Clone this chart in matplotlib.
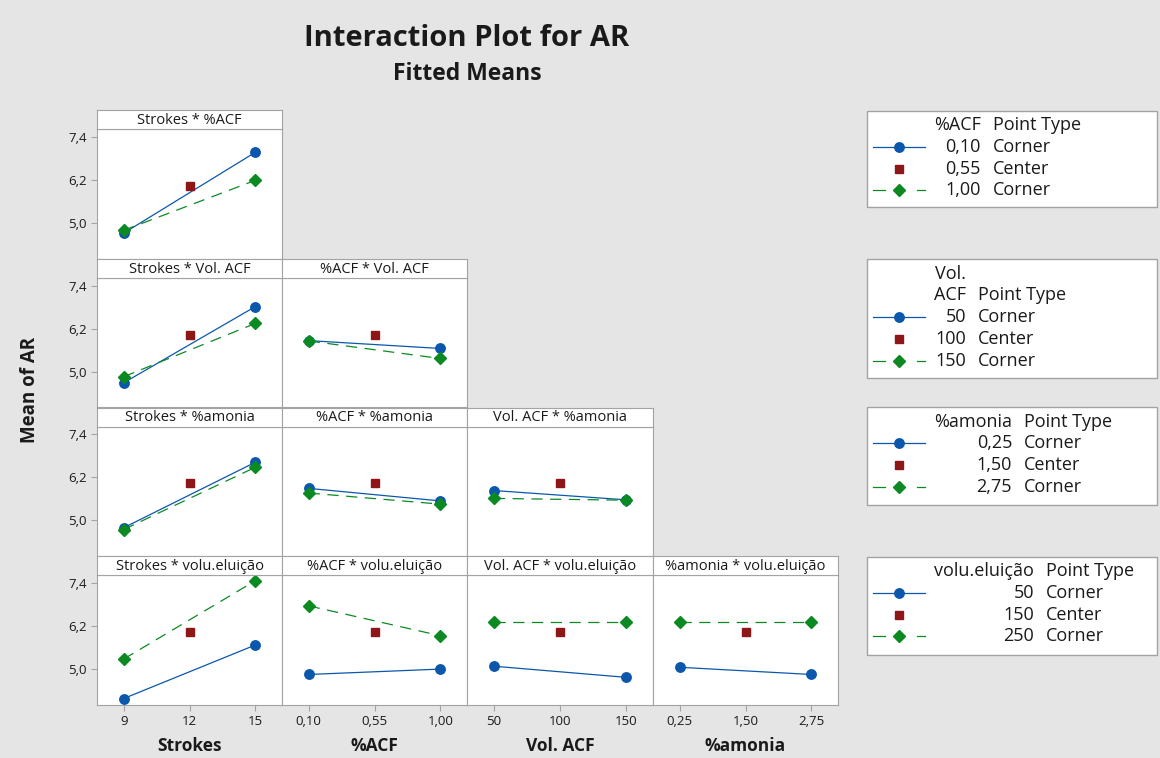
import numpy as np
import matplotlib.pyplot as plt
from matplotlib.lines import Line2D
from matplotlib.patches import Rectangle

plt.rcParams['font.family'] = ['Open Sans', 'DejaVu Sans']

# factors and their levels (low, center, high)
factors = ['Strokes', '%ACF', 'Vol. ACF', '%amonia', 'volu.eluição']
levels = [[9, 12, 15], [0.10, 0.55, 1.00], [50, 100, 150], [0.25, 1.50, 2.75], [50, 150, 250]]
level_labels = [['9', '12', '15'], ['0,10', '0,55', '1,00'], ['50', '100', '150'],
                ['0,25', '1,50', '2,75'], ['50', '150', '250']]

# panels: (trace factor index, x factor index)
panels = [(1, 0),
          (2, 0), (2, 1),
          (3, 0), (3, 1), (3, 2),
          (4, 0), (4, 1), (4, 2), (4, 3)]
# fitted means at x low / x high, for the low and high level of the trace factor
low_means = [[4.72, 6.97],
             [4.69, 6.82], [5.87, 5.65],
             [4.79, 6.62], [5.89, 5.54], [5.83, 5.57],
             [4.18, 5.67], [4.85, 5.00], [5.08, 4.77], [5.05, 4.85]]
high_means = [[4.80, 6.19],
              [4.86, 6.35], [5.86, 5.37],
              [4.74, 6.48], [5.76, 5.45], [5.61, 5.56],
              [5.28, 7.46], [6.76, 5.93], [6.31, 6.31], [6.31, 6.31]]
center_mean = 6.03

y_ticks = [5.0, 6.2, 7.4]
y_tick_labels = ['5,0', '6,2', '7,4']

BLUE = '#0b57ab'
RED = '#8e1518'
GREEN = '#0b8a22'
EDGE = '#a3a3a3'
BG = '#e5e5e5'
TXT = '#1a1a1a'

W, H = 1160, 758
fig = plt.figure(figsize=(W / 100, H / 100), dpi=100, facecolor=BG)


def fx(x):
    return x / W


def fy(y):
    return 1 - y / H


col_x = [97, 282, 467, 653, 838]
strip_top = [110, 259, 407.5, 556]
plot_bottom = [259, 407.5, 556, 705]
strip_h = 19

for k, (t, f) in enumerate(panels):
    r, c = t - 1, f
    x0, x1 = col_x[c], col_x[c + 1]
    top = strip_top[r] + strip_h
    bot = plot_bottom[r]
    ax = fig.add_axes([fx(x0), fy(bot), (x1 - x0) / W, (bot - top) / H])
    ax.set_facecolor('white')
    xs = [levels[f][0], levels[f][2]]
    ax.plot(xs, low_means[k], color=BLUE, lw=0.9, marker='o', ms=6.8, zorder=3)
    ax.plot(xs, high_means[k], color=GREEN, lw=0.9, ls=(0, (9, 6)), marker='D', ms=5.8, zorder=3)
    ax.plot([levels[f][1]], [center_mean], color=RED, marker='s', ms=6, ls='none', zorder=4)
    span = levels[f][2] - levels[f][0]
    ax.set_xlim(levels[f][0] - 0.203 * span, levels[f][2] + 0.203 * span)
    ax.set_ylim(4.0, 7.62)
    for s in ax.spines.values():
        s.set_color(EDGE)
    ax.tick_params(direction='out', length=4, color=EDGE, labelsize=9.5, labelcolor=TXT)
    if c == 0:
        ax.set_yticks(y_ticks)
        ax.set_yticklabels(y_tick_labels)
    else:
        ax.set_yticks([])
    if r == 3:
        ax.set_xticks(levels[f])
        ax.set_xticklabels(level_labels[f])
        ax.set_xlabel(factors[f], fontsize=12.5, fontweight='bold', color=TXT, labelpad=6)
    else:
        ax.set_xticks([])

    sax = fig.add_axes([fx(x0), fy(top), (x1 - x0) / W, strip_h / H])
    sax.set_facecolor('white')
    sax.set_xticks([])
    sax.set_yticks([])
    for s in sax.spines.values():
        s.set_color(EDGE)
    sax.text(0.5, 0.45, factors[f] + ' * ' + factors[t], ha='center', va='center',
             fontsize=10.5, color=TXT, transform=sax.transAxes)

fig.text(fx(467), fy(39), 'Interaction Plot for AR', ha='center', va='center',
         fontsize=21, fontweight='bold', color=TXT)
fig.text(fx(467), fy(74), 'Fitted Means', ha='center', va='center',
         fontsize=16.5, fontweight='bold', color=TXT)
fig.text(fx(30), fy(390), 'Mean of AR', ha='center', va='center', rotation=90,
         fontsize=13.5, fontweight='bold', color=TXT)

# legends
legend_headers = [['%ACF'], ['Vol.', 'ACF'], ['%amonia'], ['volu.eluição']]
legend_tops = [110.7, 259.3, 407.3, 556.7]
legend_bots = [206.7, 377.7, 505, 655]
point_types = ['Corner', 'Center', 'Corner']

renderer = fig.canvas.get_renderer()
lfs = 13
step = 21.7
for i, hdr in enumerate(legend_headers):
    top, bot = legend_tops[i], legend_bots[i]
    fig.patches.append(Rectangle((fx(867), fy(bot)), 290 / W, (bot - top) / H,
                                 transform=fig.transFigure, facecolor='white',
                                 edgecolor=EDGE, lw=1))
    # header width sets the value column
    widths = []
    for line in hdr:
        tt = fig.text(0, 0, line, fontsize=lfs)
        widths.append(tt.get_window_extent(renderer).width)
        tt.remove()
    xr = 934 + max(widths)
    y = top + 14.5
    for j, line in enumerate(hdr):
        fig.text(fx(xr), fy(y), line, ha='right', va='center', fontsize=lfs, color=TXT)
        if j == len(hdr) - 1:
            fig.text(fx(xr + 12), fy(y), 'Point Type', ha='left', va='center',
                     fontsize=lfs, color=TXT)
        else:
            y += step
    lv = level_labels[i + 1]
    for j in range(3):
        y += step
        fig.text(fx(xr), fy(y), lv[j], ha='right', va='center', fontsize=lfs, color=TXT)
        fig.text(fx(xr + 12), fy(y), point_types[j], ha='left', va='center',
                 fontsize=lfs, color=TXT)
        if j == 0:
            fig.lines.append(Line2D([fx(873), fx(925)], [fy(y), fy(y)], color=BLUE, lw=0.9,
                                    transform=fig.transFigure))
            fig.lines.append(Line2D([fx(899)], [fy(y)], color=BLUE, marker='o', ms=6.8,
                                    transform=fig.transFigure))
        elif j == 1:
            fig.lines.append(Line2D([fx(899)], [fy(y)], color=RED, marker='s', ms=6,
                                    transform=fig.transFigure))
        else:
            fig.lines.append(Line2D([fx(873), fx(885)], [fy(y), fy(y)], color=GREEN, lw=0.9,
                                    transform=fig.transFigure))
            fig.lines.append(Line2D([fx(917), fx(925)], [fy(y), fy(y)], color=GREEN, lw=0.9,
                                    transform=fig.transFigure))
            fig.lines.append(Line2D([fx(899)], [fy(y)], color=GREEN, marker='D', ms=5.8,
                                    transform=fig.transFigure))

fig.savefig('out.png', dpi=100, facecolor=BG)
